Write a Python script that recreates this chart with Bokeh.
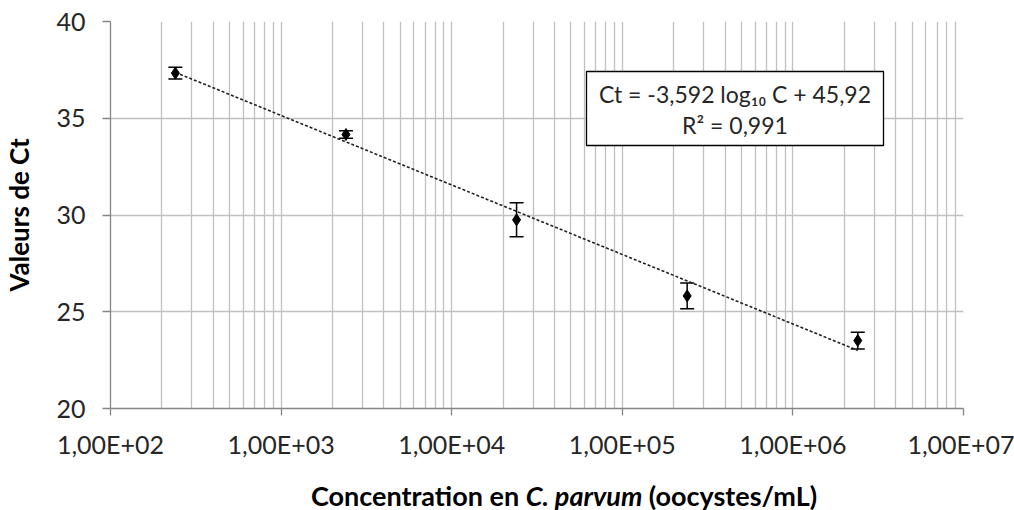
import math
from bokeh.plotting import figure
from bokeh.layouts import column
from bokeh.models import (Range1d, FixedTicker, CustomJSTickFormatter, ColumnDataSource,
                          Whisker, TeeHead, Label, Div)
from bokeh.embed import file_html
from bokeh.resources import INLINE

# ---------------- data ----------------
concentration = [2.4e2, 2.4e3, 2.4e4, 2.4e5, 2.4e6]
ct_mean = [37.33, 34.16, 29.75, 25.82, 23.51]
ct_err = [0.30, 0.20, 0.88, 0.66, 0.43]

x_tick_values = [1e2, 1e3, 1e4, 1e5, 1e6, 1e7]
x_tick_labels = ["1,00E+02", "1,00E+03", "1,00E+04", "1,00E+05", "1,00E+06", "1,00E+07"]
y_tick_values = [20, 25, 30, 35, 40]

slope = -3.592
intercept = 45.92
eq_line1 = "Ct = -3,592 log\u2081\u2080 C + 45,92"
eq_line2 = "R\u00b2 = 0,991"

x_label_parts = ["Concentration en", "C. parvum", "(oocystes/mL)"]
y_label = "Valeurs de Ct"

# ---------------- layout ----------------
W, H, LABEL_H = 1014, 482, 28
FONT = "Lato"
TICK_COLOR = "#262626"
GRID_COLOR = "#c0c0c0"
AXIS_COLOR = "#868686"

# frame in canvas pixels
FX0, FX1, FY0, FY1 = 110, 963, 408, 21


def px_to_x(px):
    return 10 ** (2 + 5 * (px - FX0) / (FX1 - FX0))


def py_to_y(py):
    return 20 + 20 * (FY0 - py) / (FY0 - FY1)


p = figure(width=W, height=H, x_axis_type="log",
           x_range=Range1d(x_tick_values[0], x_tick_values[-1]),
           y_range=Range1d(y_tick_values[0], y_tick_values[-1]),
           output_backend="svg", toolbar_location=None,
           min_border_left=FX0, min_border_right=W - FX1,
           min_border_top=FY1, min_border_bottom=H - FY0, margin=0)
p.outline_line_color = None
p.background_fill_color = "white"
p.border_fill_color = "white"

minor = [m * 10 ** e for e in range(2, 7) for m in range(2, 10)]
p.xaxis.ticker = FixedTicker(ticks=x_tick_values, minor_ticks=minor)
p.xaxis.formatter = CustomJSTickFormatter(
    args=dict(tick_vals=x_tick_values, tick_labels=x_tick_labels),
    code="""
    let best = 0, bd = Infinity;
    for (let i = 0; i < tick_vals.length; i++) {
        const d = Math.abs(Math.log10(tick) - Math.log10(tick_vals[i]));
        if (d < bd) { bd = d; best = i; }
    }
    return tick_labels[best];
    """)
p.yaxis.ticker = FixedTicker(ticks=y_tick_values, minor_ticks=[])

for ax in (p.xaxis, p.yaxis):
    ax.axis_line_color = AXIS_COLOR
    ax.axis_line_width = 1.3
    ax.major_tick_line_color = AXIS_COLOR
    ax.major_tick_line_width = 1.3
    ax.major_tick_in = 0
    ax.minor_tick_in = 0
    ax.minor_tick_out = 0
    ax.major_label_text_font = FONT
    ax.major_label_text_font_size = "25px"
    ax.major_label_text_color = TICK_COLOR
p.xaxis.major_tick_out = 7
p.yaxis.major_tick_out = 8
p.xaxis.major_label_standoff = 13
p.yaxis.major_label_standoff = 17

p.yaxis.axis_label = y_label
p.yaxis.axis_label_text_font = FONT
p.yaxis.axis_label_text_font_size = "26px"
p.yaxis.axis_label_text_font_style = "bold"
p.yaxis.axis_label_text_color = "black"
p.yaxis.axis_label_standoff = 18

p.xgrid.grid_line_color = GRID_COLOR
p.xgrid.grid_line_width = 1.3
p.xgrid.minor_grid_line_color = GRID_COLOR
p.xgrid.minor_grid_line_width = 1.3
p.ygrid.grid_line_color = GRID_COLOR
p.ygrid.grid_line_width = 1.3

# trend line over the data range
trend_x = [min(concentration), max(concentration)]
trend_y = [slope * math.log10(c) + intercept for c in trend_x]
p.line(trend_x, trend_y, line_color="#222222", line_width=1.6, line_dash="3 2")

src = ColumnDataSource(dict(
    x=concentration, y=ct_mean,
    upper=[m + e for m, e in zip(ct_mean, ct_err)],
    lower=[m - e for m, e in zip(ct_mean, ct_err)],
))
p.add_layout(Whisker(base="x", upper="upper", lower="lower", source=src,
                     dimension="height", line_color="black", line_width=1.5,
                     upper_head=TeeHead(size=14, line_color="black", line_width=1.5),
                     lower_head=TeeHead(size=14, line_color="black", line_width=1.5)))
p.scatter("x", "y", source=src, marker="diamond", size=12, color="black")

# equation box
p.quad(left=[px_to_x(586)], right=[px_to_x(883)], bottom=[py_to_y(145)], top=[py_to_y(71)],
       fill_color="white", line_color="black", line_width=1.3)
for txt, py in ((eq_line1, 93), (eq_line2, 124)):
    p.add_layout(Label(x=px_to_x(734.5), y=py_to_y(py), text=txt,
                       text_align="center", text_baseline="middle",
                       text_font=FONT, text_font_size="23px", text_color=TICK_COLOR))

# x-axis title with italic species name
xlabel_html = (
    '<div style="width:%dpx;box-sizing:border-box;padding-left:114px;text-align:center;'
    'font-family:%s;font-size:27px;font-weight:bold;line-height:%dpx;color:black;'
    'white-space:nowrap;">%s <i>%s</i> %s</div>'
    % (W, FONT, LABEL_H, x_label_parts[0], x_label_parts[1], x_label_parts[2])
)
xlabel = Div(text=xlabel_html, width=W, height=LABEL_H, margin=0)

layout = column(p, xlabel, spacing=0, margin=0)
open("out.html", "w").write(file_html(layout, INLINE))
